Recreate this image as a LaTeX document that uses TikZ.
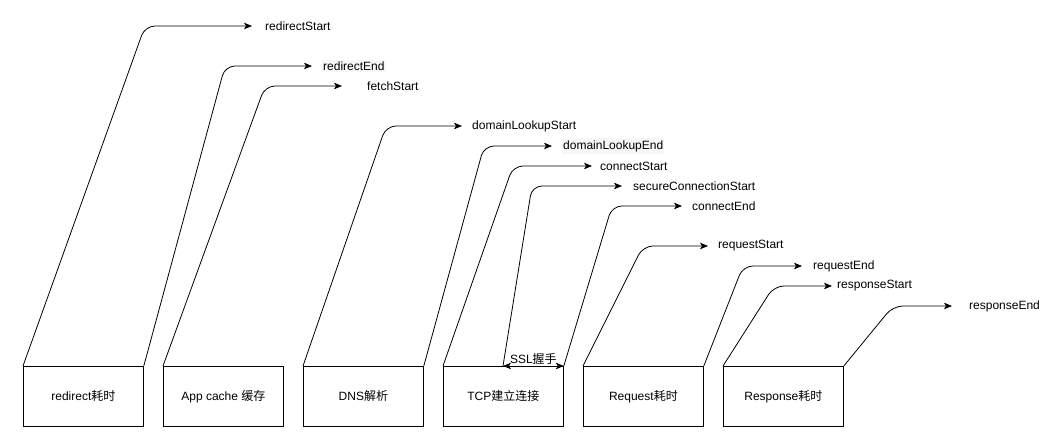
\documentclass[tikz,border=0pt]{standalone}
\usepackage{fontspec}
\setmainfont{Liberation Sans}
\newfontfamily\cjk{Noto Sans CJK SC}
\usetikzlibrary{arrows.meta}
\begin{document}
\begin{tikzpicture}[x=1pt,y=-1pt,
  font=\fontsize{12pt}{14pt}\selectfont,
  phase/.style={draw, line width=0.8pt, minimum width=120pt, minimum height=60pt, inner sep=0pt, anchor=north west},
  lbl/.style={anchor=west, inner ysep=2pt},
  shade/.style={fill=black!3, inner xsep=1pt},
  link/.style={line width=0.8pt, rounded corners=10pt, -{Stealth[length=8pt,width=6.5pt,inset=2pt]}},
  span/.style={line width=0.8pt, {Stealth[length=8pt,width=6.5pt,inset=2pt]}-{Stealth[length=8pt,width=6.5pt,inset=2pt]}}]
\useasboundingbox (0,0) rectangle (1055,443);

% phase boxes
\node[phase] (redir) at (23,366) {redirect{\cjk 耗时}};
\node[phase] (cache) at (163,366) {App cache {\cjk 缓存}};
\node[phase] (dns)   at (303,366) {DNS{\cjk 解析}};
\node[phase] (tcp)   at (443,366) {TCP{\cjk 建立连接}};
\node[phase] (req)   at (583,366) {Request{\cjk 耗时}};
\node[phase] (resp)  at (723,366) {Response{\cjk 耗时}};

% timing labels (west anchor sits at the arrow tip, except shaded ones)
\node[lbl, inner xsep=13pt] (rs)  at (252,26)  {redirectStart};
\node[lbl, shade] (re) at (322,66) {redirectEnd};
\node[lbl, inner xsep=25pt] (fs)  at (342,86)  {fetchStart};
\node[lbl, inner xsep=10pt] (dls) at (462,126) {domainLookupStart};
\node[lbl, shade] (dle) at (562,146) {domainLookupEnd};
\node[lbl, inner xsep=8pt]  (cs)  at (592,166) {connectStart};
\node[lbl, inner xsep=11pt] (scs) at (622,186) {secureConnectionStart};
\node[lbl, inner xsep=10pt] (ce)  at (682,206) {connectEnd};
\node[lbl, inner xsep=10pt] (rqs) at (708,246) {requestStart};
\node[lbl, inner xsep=11pt] (rqe) at (802,266) {requestEnd};
\node[lbl, inner xsep=5pt]  (rps) at (832,286) {responseStart};
\node[lbl, inner xsep=17pt] (rpe) at (952,306) {responseEnd};

% start of the TLS handshake on top of the TCP box
\coordinate (sslL) at (503,366);

% connectors
\draw[link] (redir.north west) -- (145,26)  -- (rs.west);
\draw[link, shorten >=10pt] (redir.north east) -- (225,66)  -- (re.west);
\draw[link] (cache.north west) -- (265,86)  -- (fs.west);
\draw[link] (dns.north west)   -- (386,126) -- (dls.west);
\draw[link, shorten >=10pt] (dns.north east)   -- (484,146) -- (dle.west);
\draw[link] (tcp.north west)   -- (513,166) -- (cs.west);
\draw[link] (sslL)             -- (532,186) -- (scs.west);
\draw[link] (tcp.north east)   -- (612,206) -- (ce.west);
\draw[link] (req.north west)   -- (643,246) -- (rqs.west);
\draw[link] (req.north east)   -- (743,266) -- (rqe.west);
\draw[link] (resp.north west)  -- (774,286) -- (rps.west);
\draw[link] (resp.north east)  -- (893,306) -- (rpe.west);

% TLS handshake span
\draw[span] (sslL) -- node[above=0pt, inner sep=1pt] (ssl) {SSL{\cjk 握手}} (tcp.north east);
\end{tikzpicture}
\end{document}
